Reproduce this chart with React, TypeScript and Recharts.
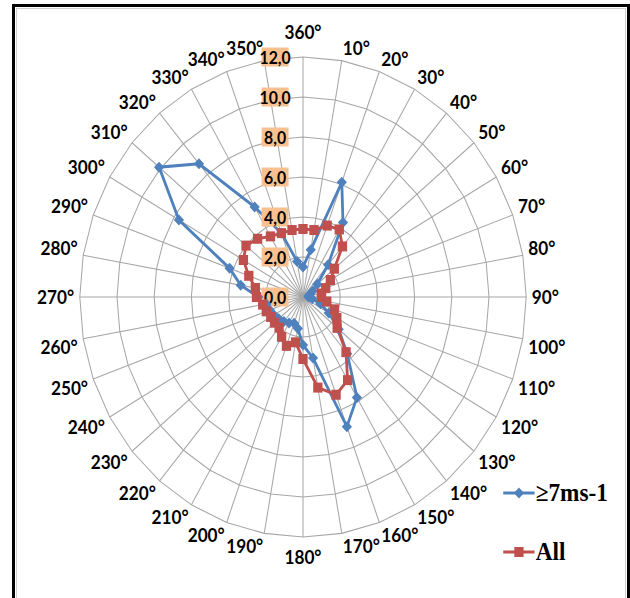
import React from 'react';
import { RadarChart, Radar, PolarGrid, PolarAngleAxis, PolarRadiusAxis, Legend } from 'recharts';

const directions = [
  '360°', '10°', '20°', '30°', '40°', '50°', '60°', '70°', '80°', '90°', '100°', '110°',
  '120°', '130°', '140°', '150°', '160°', '170°', '180°', '190°', '200°', '210°', '220°', '230°',
  '240°', '250°', '260°', '270°', '280°', '290°', '300°', '310°', '320°', '330°', '340°', '350°',
];

const strongWind = [
  1.5, 2.4, 6.1, 4.3, 2.1, 1.0, 0.6, 0.4, 0.3, 0.3, 0.5, 1.0,
  1.6, 2.5, 3.7, 5.8, 6.9, 3.1, 2.4, 1.6, 1.4, 1.5, 1.6, 1.7,
  1.8, 1.9, 2.0, 2.4, 3.4, 4.2, 7.7, 10.1, 8.7, 5.2, 3.4, 1.8,
];

const allWind = [
  3.4, 3.4, 3.8, 3.9, 3.3, 2.2, 1.7, 1.3, 1.0, 1.0, 1.3, 1.8,
  2.1, 2.4, 3.6, 4.8, 5.2, 4.6, 3.1, 2.3, 2.6, 2.3, 2.0, 2.0,
  2.0, 2.1, 2.2, 2.5, 2.6, 3.1, 3.7, 4.0, 3.8, 3.5, 3.4, 3.4,
];

const radiusDomain = [0, 12];
const radiusTickCount = 7;
const seriesNames = ['≥7ms-1', 'All'];

const data = directions.map((d, i) => ({ dir: d, strong: strongWind[i], all: allWind[i] }));

const SQUASH = 0.93;
const W = 630 / SQUASH;
const H = 598;
const CX = 303 / SQUASH;
const CY = 297;
const R = 240;
const BLUE = '#4F81BD';
const RED = '#C0504D';
const GRID = '#A6A6A6';

const fmt = (v: number) => v.toFixed(1).replace('.', ',');

const AngleTick = (props: any) => {
  const { x, y, payload } = props;
  const dx = x - CX;
  const dy = y - CY;
  const len = Math.hypot(dx, dy) || 1;
  const s = dx / len;
  const c = -dy / len;
  const rr = R + 6;
  const ax = CX + rr * s;
  const ay = CY - rr * c;
  const h = 14;
  let anchor: 'start' | 'end' | 'middle' = 'middle';
  if (s > 0.02) anchor = 'start';
  else if (s < -0.02) anchor = 'end';
  let ty = ay;
  if (c > 0.02) ty = ay - h / 2;
  else if (c < -0.02) ty = ay + h / 2;
  if (Math.abs(s) <= 0.02) ty += c > 0 ? -12 : 7;
  return (
    <text
      x={ax}
      y={ty}
      textAnchor={anchor}
      dominantBaseline="central"
      fontFamily="Lato"
      fontWeight={700}
      fontSize={18.5}
      fill="#000"
    >
      {payload.value}
    </text>
  );
};

const RadiusTick = (props: any) => {
  const { y, payload } = props;
  const bx = CX - 30;
  return (
    <g>
      <rect x={bx - 14.5} y={y - 9.5} width={29} height={19} fill="#FAC090" />
      <text
        x={bx}
        y={y}
        textAnchor="middle"
        dominantBaseline="central"
        fontFamily="Lato"
        fontWeight={700}
        fontSize={17}
        fill="#000"
      >
        {fmt(payload.value)}
      </text>
    </g>
  );
};

const DiamondDot = (p: any) => {
  const s = 5.5;
  return (
    <path
      key={`bd-${p.index}`}
      d={`M${p.cx},${p.cy - s}L${p.cx + s},${p.cy}L${p.cx},${p.cy + s}L${p.cx - s},${p.cy}Z`}
      fill={BLUE}
    />
  );
};

const SquareDot = (p: any) => (
  <rect key={`rs-${p.index}`} x={p.cx - 5} y={p.cy - 5} width={10} height={10} fill={RED} />
);

const LegendContent = () => (
  <div>
    {seriesNames.map((n, i) => (
      <div key={n} style={{ display: 'flex', alignItems: 'center', height: 59 }}>
        <svg width={34} height={14} style={{ display: 'block' }}>
          <line x1={0} y1={7} x2={34} y2={7} stroke={i === 0 ? BLUE : RED} strokeWidth={3} />
          {i === 0 ? (
            <path d="M17,1.5L22.5,7L17,12.5L11.5,7Z" fill={BLUE} />
          ) : (
            <rect x={12} y={2} width={10} height={10} fill={RED} />
          )}
        </svg>
        <span
          style={{
            fontFamily: 'Liberation Serif',
            fontWeight: 700,
            fontSize: 25,
            lineHeight: 1,
            marginLeft: 1,
            color: '#000',
            whiteSpace: 'nowrap',
          }}
        >
          {n}
        </span>
      </div>
    ))}
  </div>
);

export default function App() {
  return (
    <div
      style={{
        position: 'fixed',
        left: 0,
        top: 0,
        width: 630,
        height: 598,
        overflow: 'hidden',
        background: '#fff',
      }}
    >
      <div
        style={{
          position: 'absolute',
          left: 12,
          top: 4,
          width: 618,
          height: 640,
          border: '3px solid #000',
          boxSizing: 'border-box',
        }}
      >
        <div
          style={{
            position: 'absolute',
            left: 1,
            top: 1,
            right: 1,
            bottom: 1,
            border: '1px solid #CFCFCF',
          }}
        />
      </div>
      <div
        style={{
          position: 'absolute',
          left: 0,
          top: 0,
          width: W,
          height: H,
          transform: `scaleX(${SQUASH})`,
          transformOrigin: '0 0',
        }}
      >
        <RadarChart
          width={W}
          height={H}
          data={data}
          cx={CX}
          cy={CY}
          outerRadius={R}
          margin={{ top: 0, right: 0, bottom: 0, left: 0 }}
        >
          <PolarGrid gridType="polygon" stroke={GRID} strokeWidth={1.1} />
          <PolarAngleAxis dataKey="dir" tick={AngleTick} tickLine={false} axisLine={false} />
          <Radar
            name={seriesNames[0]}
            dataKey="strong"
            stroke={BLUE}
            strokeWidth={3}
            fill="none"
            fillOpacity={0}
            dot={DiamondDot}
            isAnimationActive={false}
          />
          <Radar
            name={seriesNames[1]}
            dataKey="all"
            stroke={RED}
            strokeWidth={3}
            fill="none"
            fillOpacity={0}
            dot={SquareDot}
            isAnimationActive={false}
          />
          <PolarRadiusAxis
            angle={90}
            type="number"
            domain={radiusDomain}
            tickCount={radiusTickCount}
            axisLine={false}
            tickLine={false}
            tick={RadiusTick}
          />
          <Legend
            content={LegendContent}
            layout="vertical"
            wrapperStyle={{ position: 'absolute', left: 541, top: 463, width: 150 }}
          />
        </RadarChart>
      </div>
    </div>
  );
}
